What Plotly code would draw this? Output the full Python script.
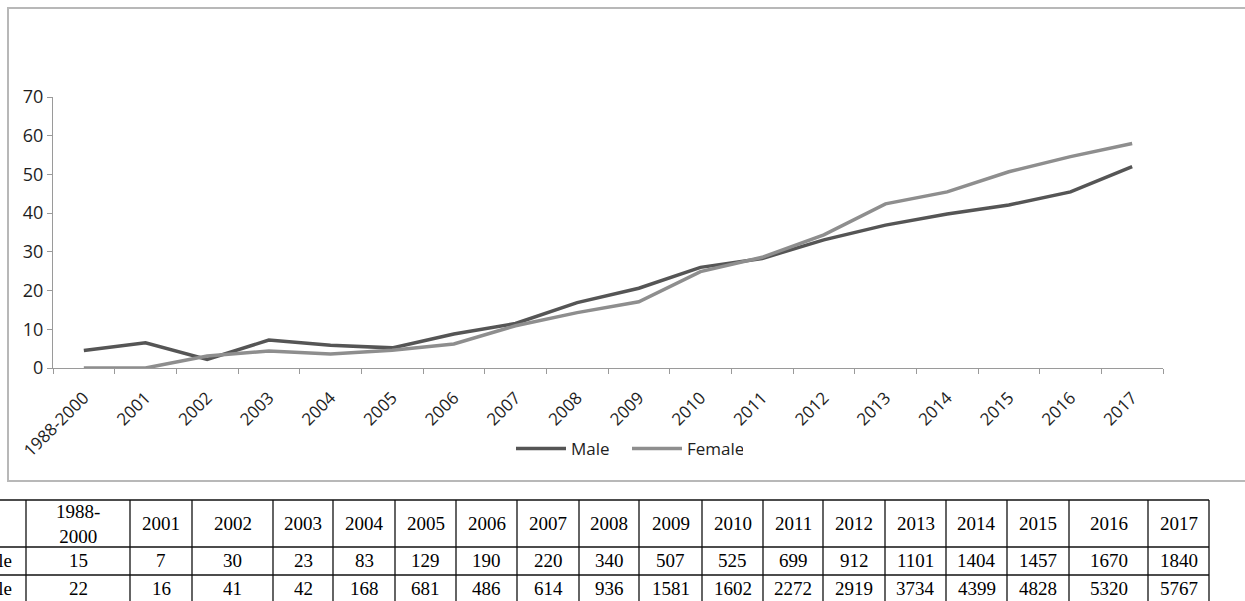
import plotly.graph_objects as go

W, H = 1245, 601

categories = ["1988-2000", "2001", "2002", "2003", "2004", "2005", "2006", "2007", "2008",
              "2009", "2010", "2011", "2012", "2013", "2014", "2015", "2016", "2017"]
male_pct = [4.5, 6.5, 2.2, 7.2, 5.9, 5.2, 8.8, 11.5, 16.9, 20.6, 26.0, 28.3, 33.1, 36.9,
            39.8, 42.1, 45.5, 52.0]
female_pct = [0.0, 0.0, 3.1, 4.4, 3.6, 4.6, 6.2, 10.9, 14.3, 17.1, 24.9, 28.6, 34.4, 42.4,
              45.5, 50.7, 54.6, 58.0]
row_labels = ["Male", "Female"]
male_counts = [15, 7, 30, 23, 83, 129, 190, 220, 340, 507, 525, 699, 912, 1101, 1404, 1457,
               1670, 1840]
female_counts = [22, 16, 41, 42, 168, 681, 486, 614, 936, 1581, 1602, 2272, 2919, 3734, 4399,
                 4828, 5320, 5767]
y_ticks = [0, 10, 20, 30, 40, 50, 60, 70]

# layout geometry (pixels)
plot_l, plot_r, plot_t, plot_b = 53, 1163, 97, 368
col_widths = [26, 104, 62, 81, 60, 62, 61, 61, 62, 60, 63, 61, 60, 62, 61, 61, 62, 79, 61]
row_edges = [500, 547, 575, 604]


def px(x):
    return x / W


def py(y):
    return (H - y) / H


fig = go.Figure()
fig.add_trace(go.Scatter(x=categories, y=male_pct, name="Male", mode="lines",
                         line=dict(color="#555555", width=3.5)))
fig.add_trace(go.Scatter(x=categories, y=female_pct, name="Female", mode="lines",
                         line=dict(color="#8e8e8e", width=3.5)))

# ---- data table drawn with shapes + annotations ----
col_edges = [0]
for w in col_widths:
    col_edges.append(col_edges[-1] + w)

shapes = [dict(type="rect", xref="paper", yref="paper", x0=px(8), x1=1.02,
               y0=py(481), y1=py(8), line=dict(color="#b8b8b8", width=2), layer="below")]
tline = dict(color="#111111", width=1.3)
for ry in row_edges[:-1]:
    shapes.append(dict(type="line", xref="paper", yref="paper", x0=-0.02, x1=px(col_edges[-1]),
                       y0=py(ry), y1=py(ry), line=tline))
for cx in col_edges[1:]:
    shapes.append(dict(type="line", xref="paper", yref="paper", x0=px(cx), x1=px(cx),
                       y0=py(row_edges[0]), y1=-0.02, line=tline))

tfont = dict(family="Liberation Serif", size=19, color="black")
annotations = []
header_texts = [c.replace("-", "-<br>") for c in categories]
rows = [male_counts, female_counts]
for i, txt in enumerate(header_texts):
    cx = (col_edges[i + 1] + col_edges[i + 2]) / 2
    annotations.append(dict(text=txt, x=px(cx), y=py((row_edges[0] + row_edges[1]) / 2),
                            xref="paper", yref="paper", showarrow=False, font=tfont,
                            xanchor="center", yanchor="middle"))
    for r, vals in enumerate(rows):
        cy = (row_edges[r + 1] + row_edges[r + 2]) / 2 - 1
        annotations.append(dict(text=str(vals[i]), x=px(cx), y=py(cy), xref="paper",
                                yref="paper", showarrow=False, font=tfont,
                                xanchor="center", yanchor="middle"))
for r, lab in enumerate(row_labels):
    cy = (row_edges[r + 1] + row_edges[r + 2]) / 2 - 1
    annotations.append(dict(text=lab, x=px(14), y=py(cy), xref="paper", yref="paper",
                            showarrow=False, font=tfont, xanchor="right", yanchor="middle"))

axis_col = "#9a9a9a"
lab_font = dict(family="Open Sans", size=17, color="#1e1e1e")
ylab_font = dict(family="Open Sans", size=18, color="#1e1e1e")
fig.update_layout(
    width=W, height=H,
    margin=dict(l=0, r=0, t=0, b=0, autoexpand=False),
    paper_bgcolor="white", plot_bgcolor="white",
    showlegend=True,
    legend=dict(orientation="h", x=px(627), y=py(449), xanchor="center", yanchor="middle",
                font=lab_font, itemwidth=50, entrywidth=51, entrywidthmode="pixels",
                bgcolor="rgba(0,0,0,0)"),
    xaxis=dict(domain=[px(plot_l), px(plot_r)], type="category", range=[-0.5, 17.5],
               automargin=False,
               showline=True, linecolor=axis_col, linewidth=1.2, ticks="outside",
               tickson="boundaries", ticklen=5, tickcolor=axis_col, tickangle=-45,
               ticklabelstandoff=12,
               showgrid=False, zeroline=False, tickfont=lab_font),
    yaxis=dict(domain=[py(plot_b), py(plot_t)], range=[0, 70], tickvals=y_ticks,
               automargin=False,
               showline=True, linecolor=axis_col, linewidth=1.2, ticks="outside",
               ticklen=5, tickcolor=axis_col, showgrid=False, zeroline=False,
               ticklabelstandoff=0,
               tickfont=ylab_font),
    shapes=shapes,
    annotations=annotations,
)

fig.write_html("out.html")
